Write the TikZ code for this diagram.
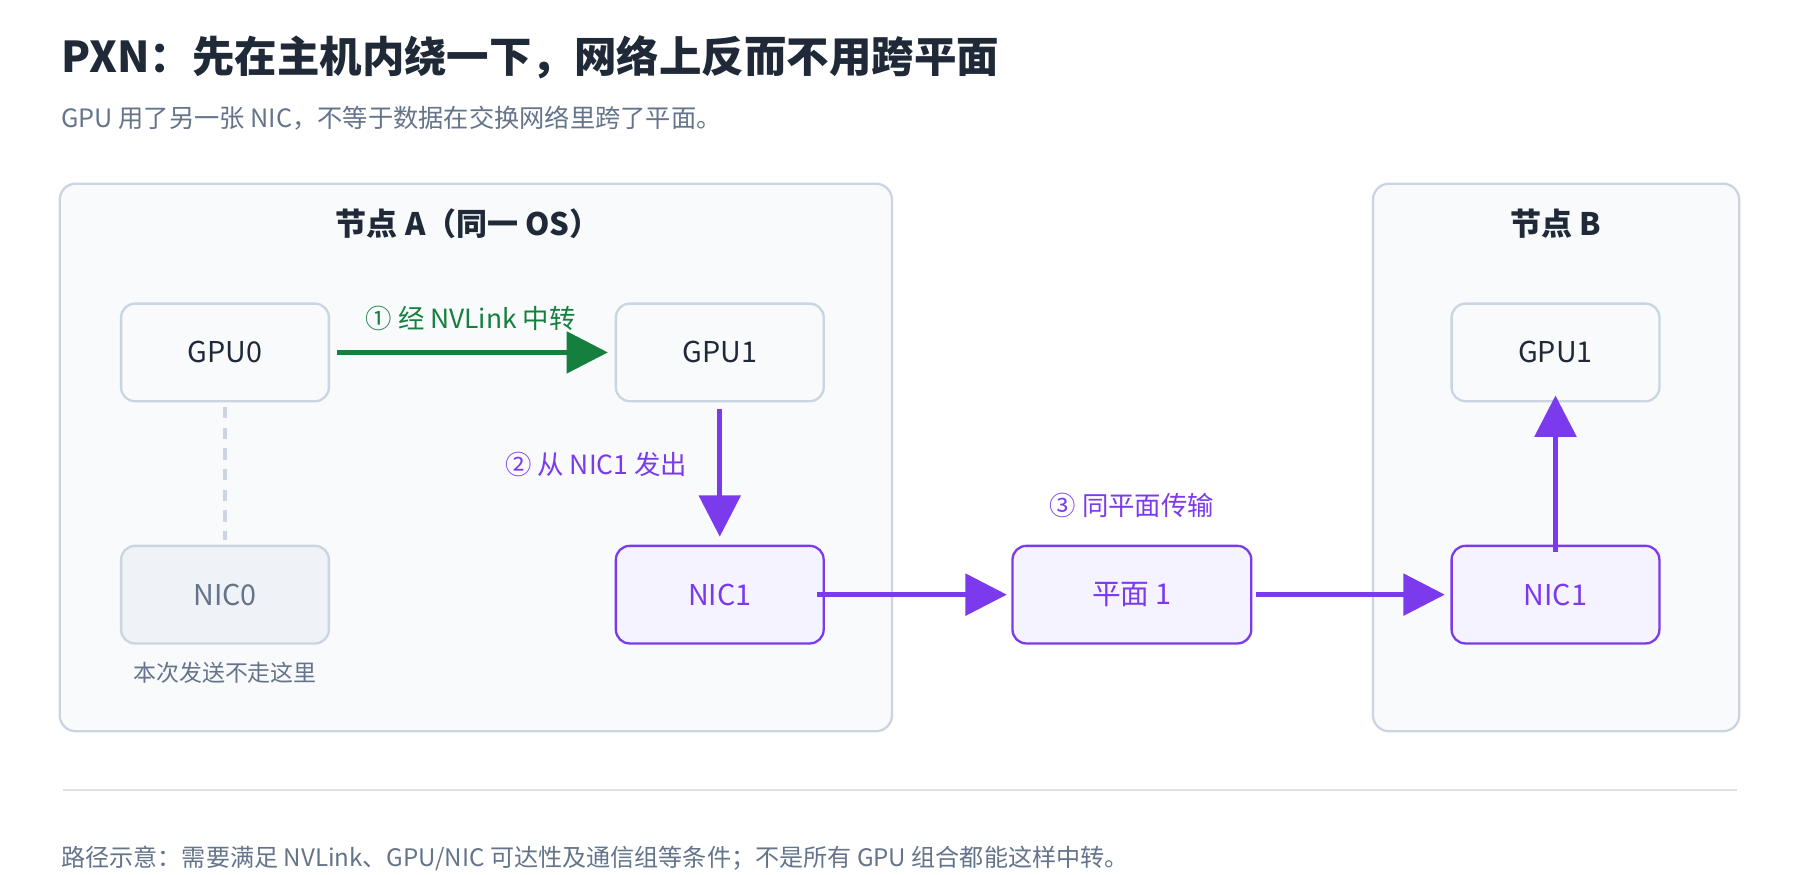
\documentclass[tikz,border=0pt]{standalone}
\usepackage{fontspec}
\setmainfont{Noto Sans CJK SC}
\usetikzlibrary{arrows.meta,positioning}
\definecolor{ink}{HTML}{1F2937}
\definecolor{muted}{HTML}{64748B}
\definecolor{edge}{HTML}{CBD5E1}
\definecolor{panel}{HTML}{F8FAFC}
\definecolor{pur}{HTML}{7C3AED}
\definecolor{purfill}{HTML}{F5F3FF}
\definecolor{grn}{HTML}{15803D}
\begin{document}
\begin{tikzpicture}[x=1pt,y=-1pt,
  box/.style={draw=edge, line width=2pt, rounded corners=12pt, fill=panel, minimum width=181pt, minimum height=85pt, font=\fontsize{25}{30}\selectfont, text=ink},
  hot/.style={box, draw=pur, fill=purfill, text=pur},
  grp/.style={draw=edge, line width=2pt, rounded corners=14pt, fill=panel},
  arr/.style={line width=4pt, -{Triangle[length=36pt,width=36pt]}},
  lbl/.style={font=\fontsize{23}{27}\selectfont}]
  \fill [white] (0,0) rectangle (1568,758);  % Hintergrund
  \node[anchor=west, text=ink, font=\fontsize{37}{44}\bfseries\selectfont] (title) at (50,50) {PXN：先在主机内绕一下，网络上反而不用跨平面};
  \node[anchor=west, text=muted, font=\fontsize{22}{26}\selectfont] (sub) at (50,103) {GPU 用了另一张 NIC，不等于数据在交换网络里跨了平面。};

  \draw[grp] (52,160) rectangle (777,637);
  \draw[grp] (1196,160) rectangle (1515,637);
  \node[text=ink, font=\fontsize{27}{32}\bfseries\selectfont] (ta) at (408,195) {节点 A（同一 OS）};
  \node[text=ink, font=\fontsize{27}{32}\bfseries\selectfont] (tb) at (1355,195) {节点 B};

  \node[box] (gpu0) at (196,307) {GPU0};
  \node[box] (gpu1) at (627,307) {GPU1};
  \node[box] (gpub) at (1355,307) {GPU1};
  \node[box, fill=edge!30, text=muted] (nic0) at (196,518) {NIC0};
  \node[hot] (nic1) at (627,518) {NIC1};
  \node[hot, minimum width=208pt] (plane) at (986,518) {平面 1};
  \node[hot] (nicb) at (1355,518) {NIC1};

  \node[text=muted, font=\fontsize{20}{24}\selectfont, below=12pt of nic0] (skip) {本次发送不走这里};
  \node[text=grn, lbl] (l1) at (410,277) {① 经 NVLink 中转};
  \node[text=pur, lbl, anchor=east] (l2) at (602,405) {② 从 NIC1 发出};
  \node[text=pur, lbl] (l3) at (986,440) {③ 同平面传输};

  \draw[edge, line width=3pt, dash pattern=on 10pt off 8pt] ([yshift=-4pt]gpu0.south) -- ([yshift=4pt]nic0.north);
  \draw[arr, grn] ([xshift=6pt]gpu0.east) -- ([xshift=-6pt]gpu1.west);
  \draw[arr, pur] ([yshift=-6pt]gpu1.south) -- ([yshift=7pt]nic1.north);
  \draw[arr, pur] ([xshift=-7pt]nic1.east) -- ([xshift=-4pt]plane.west);
  \draw[arr, pur] ([xshift=3pt]plane.east) -- ([xshift=-5pt]nicb.west);
  \draw[arr, pur] ([yshift=-6pt]nicb.north) -- ([yshift=6pt]gpub.south);

  \draw[edge!70, line width=1.5pt] (55,688) -- (1513,688);
  \node[anchor=west, text=muted, font=\fontsize{21}{25}\selectfont] (foot) at (50,748) {路径示意：需要满足 NVLink、GPU/NIC 可达性及通信组等条件；不是所有 GPU 组合都能这样中转。};
\end{tikzpicture}
\end{document}
